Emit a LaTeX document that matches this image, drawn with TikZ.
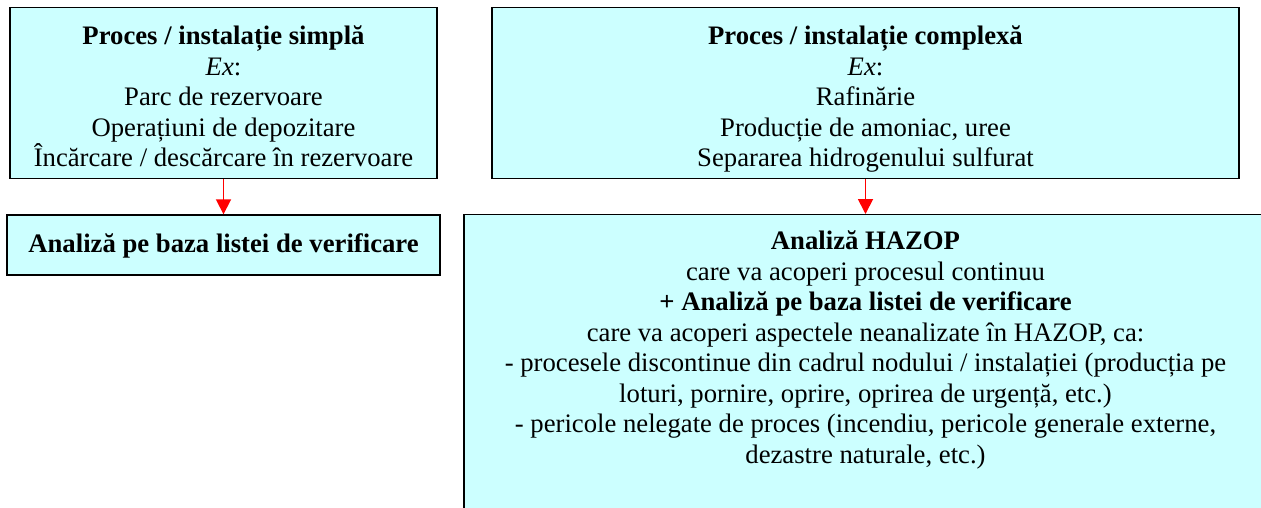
\documentclass[tikz,border=0pt]{standalone}
\usepackage{fontspec}
\setmainfont{Liberation Serif}
\usetikzlibrary{arrows.meta}
\definecolor{boxcyan}{HTML}{CCFFFF}

\begin{document}
\begin{tikzpicture}
	[
		x = 1pt, y = -1pt,
		box/.style = {draw, line width = 1.4pt, fill = boxcyan, align = center, inner xsep = 0pt},
		topbox/.style = {box, anchor = north, inner ysep = 12pt, text height = 147pt, text depth = 0pt},
		flow/.style = {-{Triangle[width = 15pt, length = 15pt]}, red, line width = 1.8pt},
		every node/.append style = {font = \fontsize{26.7}{30.5}\selectfont}
	]
	\useasboundingbox (0,0) rectangle (1261,507);
	\clip (0,0) rectangle (1261,507);

	% upper row
	\node[topbox, minimum width = 427pt] (simplu) at (223.5,7)
		{\textbf{Proces / instalație simplă}\\ \textit{Ex}:\\ Parc de rezervoare\\ Operațiuni de depozitare\\ Încărcare / descărcare în rezervoare};
	\node[topbox, minimum width = 747pt] (complex) at (865.5,7)
		{\textbf{Proces / instalație complexă}\\ \textit{Ex}:\\ Rafinărie\\ Producție de amoniac, uree\\ Separarea hidrogenului sulfurat};

	% lower row
	\node[box, minimum width = 433pt, minimum height = 60pt, text depth = 4pt] (lista) at (223.5,245)
		{\textbf{Analiză pe baza listei de verificare}};
	\node[box, anchor = north, inner ysep = 16pt, text depth = 80pt, minimum width = 803pt] (hazop) at (865.5,214)
		{\textbf{Analiză HAZOP}\\
		care va acoperi procesul continuu\\
		\textbf{+ Analiză pe baza listei de verificare}\\
		care va acoperi aspectele neanalizate în HAZOP, ca:\\
		- procesele discontinue din cadrul nodului / instalației (producția pe\\
		loturi, pornire, oprire, oprirea de urgență, etc.)\\
		- pericole nelegate de proces (incendiu, pericole generale externe,\\
		dezastre naturale, etc.)};

	\draw[flow] (simplu) -- (lista);
	\draw[flow] (complex) -- (hazop);
\end{tikzpicture}
\end{document}
